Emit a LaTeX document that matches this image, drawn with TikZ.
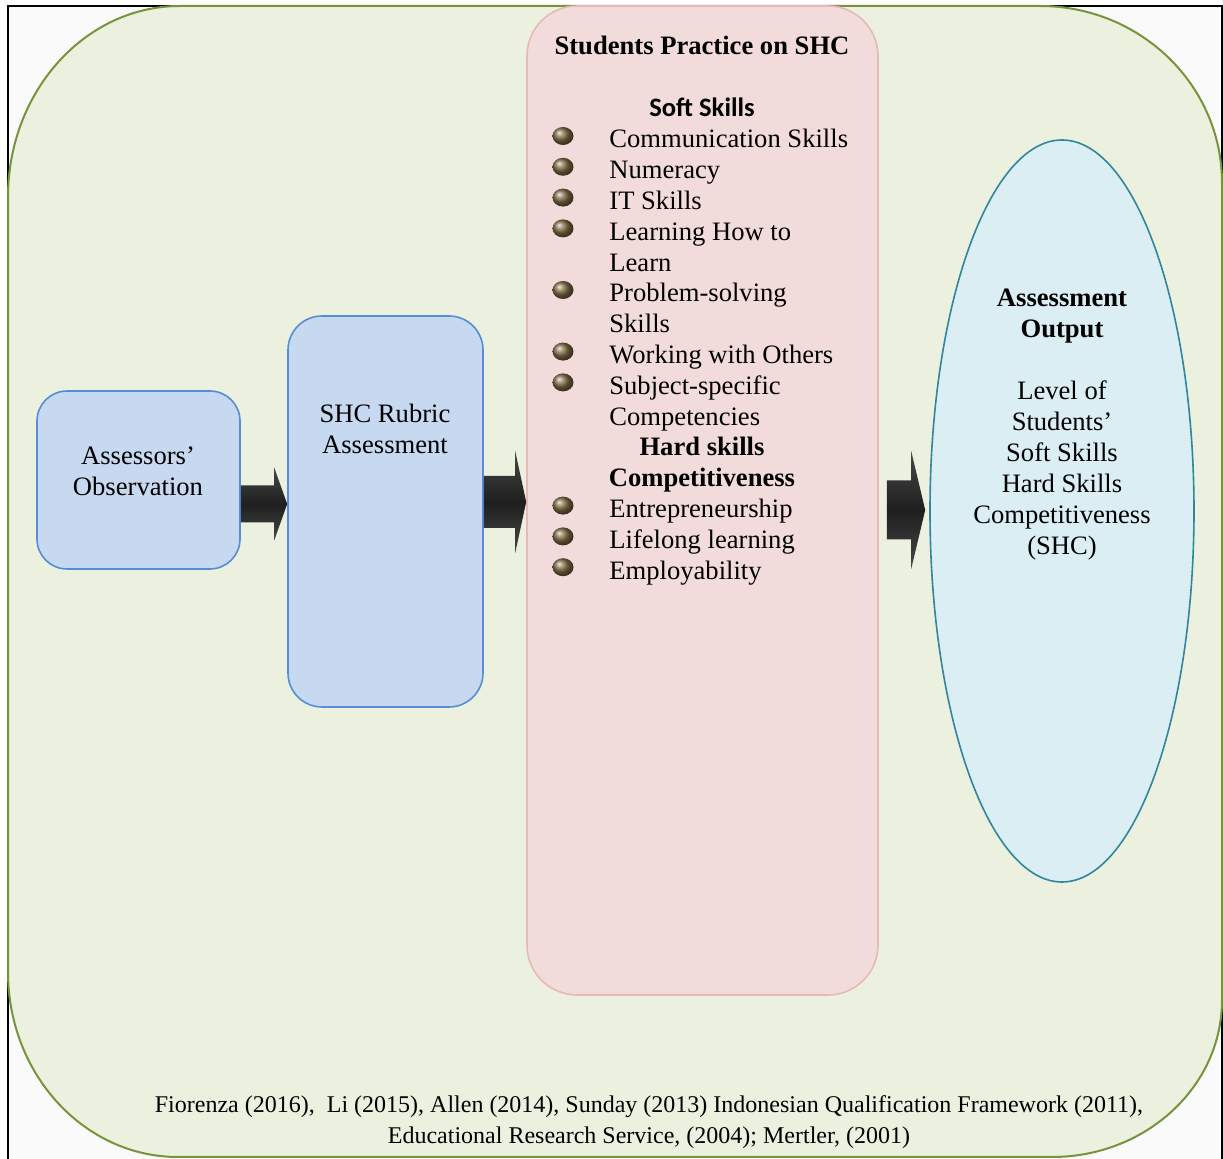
\documentclass[tikz,border=0pt]{standalone}
\usepackage{fontspec}
\setmainfont{Liberation Serif}
\newfontfamily\calibri{Carlito}
\usetikzlibrary{calc,shapes.geometric}
\definecolor{shcpage}{RGB}{250,250,250}
\definecolor{shcgreen}{RGB}{235,241,222}
\definecolor{shcgreenline}{RGB}{119,147,60}
\definecolor{shcblue}{RGB}{198,217,241}
\definecolor{shcblueline}{RGB}{85,142,213}
\definecolor{shcpink}{RGB}{242,220,219}
\definecolor{shcpinkline}{RGB}{230,185,184}
\definecolor{shcaqua}{RGB}{219,238,244}
\definecolor{shcaqualine}{RGB}{49,133,156}
\definecolor{shcball}{RGB}{130,110,70}
\colorlet{shcarrow0}{black!72}
\colorlet{shcarrow1}{black!88}
\def\shcfont{\fontsize{13.3}{15.5}\selectfont}
\def\shcstep{30.8}
\def\shcarrow#1#2#3#4#5{\shade [arr] ($(#1)+(0,-#3)$) -- ($(#2)+(-#5,-#3)$) -- ($(#2)+(-#5,-#4)$) -- (#2) %
  -- ($(#2)+(-#5,#4)$) -- ($(#2)+(-#5,#3)$) -- ($(#1)+(0,#3)$) -- cycle;}

\begin{document}
\begin{tikzpicture} [x=0.5pt, y=-0.5pt, %
  box/.style={rectangle, rounded corners=15pt, draw=shcblueline, line width=0.8pt, fill=shcblue, inner sep=0pt}, %
  arr/.style={top color=shcarrow0, bottom color=shcarrow0, middle color=shcarrow1}, %
  txt/.style={font=\shcfont, align=center, inner sep=0pt}] %
\useasboundingbox (0,0) rectangle (1223,1159); %
\draw [line width=1.2pt, fill=shcpage] (8,6) rectangle (1222,1175); %
\draw [fill=shcgreen, draw=shcgreenline, line width=1pt] (180,6) -- (1040,6) %
  arc [start angle=270, end angle=360, x radius=182, y radius=177] -- (1222,1000) %
  arc [start angle=0, end angle=90, x radius=170, y radius=157] -- (178,1157) %
  arc [start angle=90, end angle=180, x radius=170, y radius=185] -- (8,197) %
  arc [start angle=180, end angle=270, x radius=172, y radius=191] -- cycle; %
 %
\node [box, minimum width=101.5pt, minimum height=89pt] (obs) at (138.5,480) {}; %
\node [box, rounded corners=17pt, minimum width=97.5pt, minimum height=195.5pt] (rub) at (385.5,511.5) {}; %
\node [box, rounded corners=25pt, draw=shcpinkline, fill=shcpink, minimum width=175.5pt, minimum height=494.5pt] (prac) at (702.5,500.5) {}; %
\node [ellipse, draw=shcaqualine, fill=shcaqua, line width=0.8pt, inner sep=0pt, minimum width=132pt, minimum height=371pt] (out) at (1062,511) {}; %
 %
\coordinate (a1s) at ($(obs.east)+(0,24)$); %
\coordinate (a1e) at (rub.west |- a1s); %
\coordinate (a2s) at ($(rub.east)+(0,-9.5)$); %
\coordinate (a2e) at (prac.west |- a2s); %
\coordinate (a3s) at ($(prac.east)+(8,9.5)$); %
\coordinate (a3e) at ($(out.west)+(-4,-1)$); %
\shcarrow{a1s}{a1e}{18.5}{36.5}{13} %
\shcarrow{a2s}{a2e}{26}{51}{11} %
\shcarrow{a3s}{a3e}{29.5}{59}{14} %
 %
\node [txt] (obs-text) at (138,471) {Assessors'\\Observation}; %
\node [txt] (rub-text) at (385,429) {SHC Rubric\\Assessment}; %
\node [txt, font=\shcfont\bfseries, anchor=base] (prac-title) at (702,55) {Students Practice on SHC}; %
\node [txt, font=\calibri\bfseries\fontsize{13.3}{15.5}\selectfont, anchor=base] (soft) at (702,117) {Soft Skills}; %
\foreach \k/\t in {0/Communication Skills, 1/Numeracy, 2/IT Skills, 3/Learning How to, 4/Learn, %
  5/Problem-solving, 6/Skills, 7/Working with Others, 8/Subject-specific, 9/Competencies, %
  12/Entrepreneurship, 13/Lifelong learning, 14/Employability} %
  \node [txt, anchor=base west] (item-\k) at (609,{148+\shcstep*\k}) {\t}; %
\foreach \k in {0,1,2,3,5,7,8,12,13,14} %
  \shade [ball color=shcball] (563,{136+\shcstep*\k}) ellipse [x radius=10.5, y radius=9]; %
\node [txt, font=\shcfont\bfseries, anchor=base] (hard) at (702,{148+\shcstep*10}) {Hard skills}; %
\node [txt, font=\shcfont\bfseries, anchor=base] (comp) at (702,{148+\shcstep*11}) {Competitiveness}; %
\node [txt] (out-text) at (1062,425) {\textbf{Assessment}\\\textbf{Output}\\[15.5pt]Level of\\Students'\\Soft Skills\\Hard Skills\\Competitiveness\\(SHC)}; %
\node [txt, font=\fontsize{12}{15.5}\selectfont] (refs) at (649,1122) {Fiorenza (2016),~ Li (2015), Allen (2014), Sunday (2013) Indonesian Qualification Framework (2011),\\Educational Research Service, (2004); Mertler, (2001)}; %
\end{tikzpicture}
\end{document}
